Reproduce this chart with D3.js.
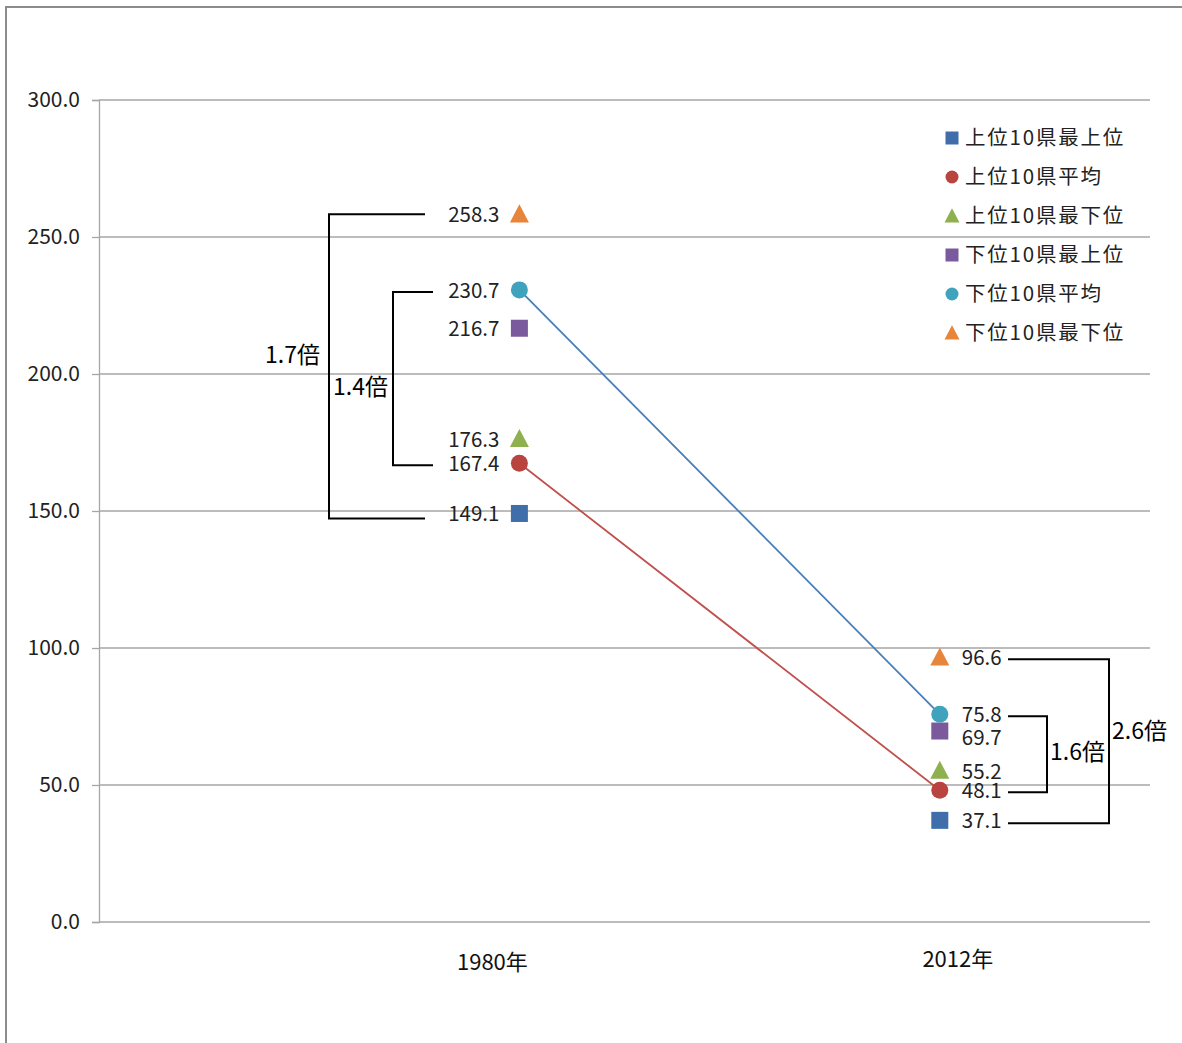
<!DOCTYPE html>
<html><head><meta charset="utf-8">
<script src="https://cdn.jsdelivr.net/npm/d3@7"></script>
<style>
html,body{margin:0;padding:0;background:#fff;}
svg{display:block;font-family:"Noto Sans CJK JP","Noto Sans",sans-serif;}
</style></head>
<body>
<svg id="chart" width="1182" height="1043"></svg>
<script>
const years = ["1980年", "2012年"];
const seriesNames = ["上位10県最上位","上位10県平均","上位10県最下位","下位10県最上位","下位10県平均","下位10県最下位"];
const seriesColors = ["#3f6eab","#b8433f","#8fb04e","#7a5a9c","#3fa3be","#e7853a"];
const seriesShapes = ["square","circle","triangle","square","circle","triangle"];
const values1980 = [149.1, 167.4, 176.3, 216.7, 230.7, 258.3];
const values2012 = [37.1, 48.1, 55.2, 69.7, 75.8, 96.6];
const yTicks = [0, 50, 100, 150, 200, 250, 300];
const ratioLabels = ["1.7倍", "1.4倍", "2.6倍", "1.6倍"];

(function(){
const svg = d3.select("#chart");
const pL = 99, pR = 1150, pT = 100, pB = 922;

svg.append("rect").attr("x",6).attr("y",7).attr("width",1300).attr("height",1200)
  .attr("fill","none").attr("stroke","#8c8c8c").attr("stroke-width",2);

const y = d3.scaleLinear().domain([0,300]).range([pB, pT]);
const x = d3.scaleLinear().domain([0,2.5]).range([pL, pR]);

svg.append("g").selectAll("line").data(yTicks).join("line")
  .attr("x1",pL).attr("x2",pR).attr("y1",d=>y(d)).attr("y2",d=>y(d))
  .attr("stroke","#a6a6a6").attr("stroke-width",1.3);

const yAxis = d3.axisLeft(y).tickValues(yTicks).tickFormat(d3.format(".1f")).tickSize(7).tickPadding(12);
const ga = svg.append("g").attr("transform",`translate(${pL},0)`).call(yAxis);
ga.select(".domain").attr("stroke","#a6a6a6").attr("stroke-width",1.3);
ga.selectAll(".tick line").attr("stroke","#a6a6a6").attr("stroke-width",1.3);
ga.selectAll(".tick text").attr("font-size",21).attr("fill","#222").attr("font-family","'Noto Sans CJK JP',sans-serif");

svg.append("text").attr("x",x(1)-27).attr("y",970).attr("text-anchor","middle")
  .attr("font-size",22).attr("fill","#111").text(years[0]);
svg.append("text").attr("x",x(2)+18).attr("y",967).attr("text-anchor","middle")
  .attr("font-size",22).attr("fill","#111").text(years[1]);

const lineColors = {1:"#c0504d", 4:"#4a7ebb"};
[4,1].forEach(i=>{
  svg.append("line").attr("x1",x(1)).attr("y1",y(values1980[i]))
    .attr("x2",x(2)).attr("y2",y(values2012[i]))
    .attr("stroke",lineColors[i]).attr("stroke-width",1.8);
});

function marker(g, shape, cx, cy, color, s){
  if(shape==="square"){
    g.append("rect").attr("x",cx-s/2).attr("y",cy-s/2).attr("width",s).attr("height",s).attr("fill",color);
  } else if(shape==="circle"){
    g.append("circle").attr("cx",cx).attr("cy",cy).attr("r",s/2).attr("fill",color);
  } else {
    const h = s*0.95;
    g.append("path").attr("d",`M${cx},${cy-h*0.55}L${cx+s/2},${cy+h*0.45}L${cx-s/2},${cy+h*0.45}Z`).attr("fill",color);
  }
}

const mg = svg.append("g");
const mSize = {square:17, circle:17, triangle:19};
seriesNames.forEach((n,i)=>{
  marker(mg, seriesShapes[i], x(1), y(values1980[i]), seriesColors[i], mSize[seriesShapes[i]]);
  marker(mg, seriesShapes[i], x(2), y(values2012[i]), seriesColors[i], mSize[seriesShapes[i]]);
});

const lg = svg.append("g").attr("font-size",20.5).attr("fill","#222");
const dy2012 = [0,0,0,6,0,0];
values1980.forEach((v,i)=>{
  lg.append("text").attr("x",x(1)-20).attr("y",y(v)+8).attr("text-anchor","end").text(v.toFixed(1));
});
values2012.forEach((v,i)=>{
  lg.append("text").attr("x",x(2)+22).attr("y",y(v)+8+dy2012[i]).attr("text-anchor","start").text(v.toFixed(1));
});

const bg = svg.append("g").attr("fill","none").attr("stroke","#000").attr("stroke-width",2);
function bracket(xo, xi, v1, v2, dTop, dBot){
  const y1 = y(v1)+dTop, y2 = y(v2)+dBot;
  bg.append("path").attr("d",`M${xo},${y1}H${xi}V${y2}H${xo}`);
}
bracket(425, 329, values1980[5], values1980[0], 0, 5);
bracket(433, 393, values1980[4], values1980[1], 2, 2);
bracket(1008, 1109, values2012[5], values2012[0], 2, 3);
bracket(1008, 1047, values2012[4], values2012[1], 2, 2);

const rg = svg.append("g").attr("font-size",23).attr("fill","#000");
rg.append("text").attr("x",320).attr("y",363).attr("text-anchor","end").text(ratioLabels[0]);
rg.append("text").attr("x",333).attr("y",395).attr("text-anchor","start").text(ratioLabels[1]);
rg.append("text").attr("x",1112).attr("y",739).attr("text-anchor","start").text(ratioLabels[2]);
rg.append("text").attr("x",1050).attr("y",760).attr("text-anchor","start").text(ratioLabels[3]);

const leg = svg.append("g");
seriesNames.forEach((n,i)=>{
  const ly = 138 + i*39;
  marker(leg, seriesShapes[i], 952, ly, seriesColors[i], seriesShapes[i]==="triangle"?15:13);
  leg.append("text").attr("x",965).attr("y",ly+7).attr("font-size",20.5).attr("letter-spacing",1.8)
    .attr("fill","#222").text(n);
});
})();
</script>
</body></html>
